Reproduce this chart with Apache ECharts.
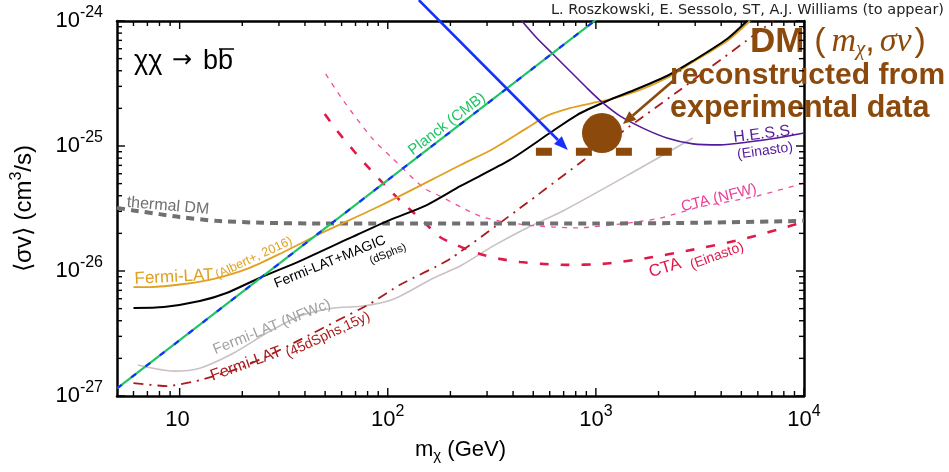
<!DOCTYPE html>
<html>
<head>
<meta charset="utf-8">
<title>bb annihilation limits</title>
<script src="https://cdn.jsdelivr.net/npm/echarts@6.0.0/dist/echarts.min.js"></script>
<style>
html, body { margin: 0; padding: 0; background: #fff; }
#chart { width: 949px; height: 472px; }
</style>
</head>
<body>
<div id="chart"></div>
<script>
// dark matter mass m (GeV) and <sigma v> (cm^3/s)
var thermalM = [5, 6, 8, 10, 15, 25, 50, 100, 300, 1000, 3000, 10000];
var thermalSv = [3.2e-26, 3.05e-26, 2.85e-26, 2.7e-26, 2.52e-26, 2.43e-26, 2.4e-26, 2.4e-26, 2.4e-26, 2.4e-26, 2.43e-26, 2.52e-26];

var planckM = [5, 1000];
var planckSv = [1.15e-27, 1.02e-24];

var albertM = [6, 7.2, 10.5, 15.1, 21.7, 31.6, 49.2, 91.5, 224, 320, 466, 581, 750, 968, 1130, 1575, 2195, 2925, 4266, 5500];
var albertSv = [7.44e-27, 7.44e-27, 7.87e-27, 8.79e-27, 1.06e-26, 1.42e-26, 2.05e-26, 3.31e-26, 7.05e-26, 9.46e-26, 1.39e-25, 1.74e-25, 2.01e-25, 2.21e-25, 2.33e-25, 2.75e-25, 3.5e-25, 4.7e-25, 6.92e-25, 1e-24];

var magicM = [6, 8.4, 12.5, 16.8, 24.2, 37.8, 65.6, 102, 154, 224, 386, 601, 811, 1130, 1575, 2195, 2925, 4266, 5321];
var magicSv = [5.06e-27, 5.15e-27, 5.75e-27, 6.67e-27, 8.79e-27, 1.2e-26, 1.83e-26, 2.55e-26, 3.37e-26, 4.79e-26, 7.73e-26, 1.27e-25, 1.77e-25, 2.29e-25, 2.86e-25, 3.63e-25, 4.79e-25, 7.18e-25, 1e-24];

var nfwcM = [6.3, 9.4, 12.5, 18.2, 26.2, 37.8, 55, 76.7, 107, 166, 224, 320, 466, 694, 1456, 2925];
var nfwcSv = [1.77e-27, 1.58e-27, 1.67e-27, 2.21e-27, 3.19e-27, 4.37e-27, 5.06e-27, 5.25e-27, 5.97e-27, 8.79e-27, 1.1e-26, 1.58e-26, 2.21e-26, 3.02e-26, 5.97e-26, 1.16e-25];

var dsph15M = [6, 8.7, 12.5, 19.4, 27.1, 37.8, 55.6, 81.9, 114, 199, 466, 1045, 2535, 7096];
var dsph15Sv = [1.27e-27, 1.2e-27, 1.34e-27, 1.67e-27, 2.13e-27, 2.81e-27, 3.91e-27, 5.45e-27, 7.73e-27, 1.25e-26, 3.5e-26, 9.64e-26, 2.81e-25, 1e-24];

var ctaEinM = [49.8, 58.7, 69.4, 81.9, 96.7, 114, 132, 151, 178, 215, 277, 345, 431, 556, 726, 1081, 1758, 2742, 5096, 8850, 10000];
var ctaEinSv = [1.8e-25, 1.25e-25, 8.95e-26, 6.55e-26, 4.88e-26, 3.7e-26, 2.96e-26, 2.42e-26, 1.87e-26, 1.61e-26, 1.37e-26, 1.25e-26, 1.18e-26, 1.14e-26, 1.12e-26, 1.14e-26, 1.27e-26, 1.45e-26, 1.8e-26, 2.33e-26, 2.51e-26];

var ctaNfwM = [50.3, 61.4, 83.8, 105, 149, 178, 224, 277, 345, 466, 621, 811, 1167, 1575, 2032, 3162, 5943, 10000];
var ctaNfwSv = [3.77e-25, 2.29e-25, 1.16e-25, 8.02e-26, 4.61e-26, 3.98e-26, 3.25e-26, 2.75e-26, 2.51e-26, 2.33e-26, 2.25e-26, 2.21e-26, 2.33e-26, 2.47e-26, 2.65e-26, 3.25e-26, 3.98e-26, 5.06e-26];

var hessM = [441, 520, 621, 750, 906, 1081, 1304, 1682, 2195, 2925, 3945, 5500, 7413, 10000];
var hessSv = [1e-24, 7.31e-25, 5.45e-25, 3.98e-25, 2.91e-25, 2.21e-25, 1.74e-25, 1.39e-25, 1.16e-25, 1.04e-25, 1.02e-25, 1.08e-25, 1.16e-25, 1.27e-25];

// reconstructed point and its band
var dotM = [1070];
var dotSv = [1.27e-25];
var bandM = [515, 2317];
var bandSv = [9.0e-26, 9.0e-26];

// annotation arrows: [start, tip] in (m, sv)
var blueArrow = [[141, 1.47e-24], [733, 9.3e-26]];
var brownArrow = [[2345, 3.31e-25], [1349, 1.5e-25]];

// decade exponents for tick labels
var xTickExp = [1, 2, 3, 4];
var yTickExp = [-27, -26, -25, -24];

var L = Math.log10;
var xMin = L(5), xMax = 4, yMin = -27, yMax = -24;
var font = 'Liberation Sans';
var brown = '#8b4a0c';

function pts(m, sv) {
	return m.map(function (v, i) { return [L(v), L(sv[i])]; });
}

function minorTicks(lo, hi) {
	var out = [];
	for (var n = Math.floor(lo); n < hi; n++) {
		for (var k = 2; k <= 9; k++) {
			var v = n + L(k);
			if (v > lo + 1e-6 && v < hi - 1e-6) out.push(v);
		}
	}
	return out;
}

// tick list: [dim (0 = x, 1 = y), value, major]
var tickData = [];
xTickExp.forEach(function (v) { tickData.push([0, v, 1]); });
minorTicks(xMin, xMax).forEach(function (v) { tickData.push([0, v, 0]); });
yTickExp.forEach(function (v) { tickData.push([1, v, 1]); });
minorTicks(yMin, yMax).forEach(function (v) { tickData.push([1, v, 0]); });

function powLabel(v) {
	var e = Math.round(v);
	return e === 1 ? '{b|10}{s| }' : '{b|10}{s|' + e + '}';
}

var labelRich = {
	b: { fontSize: 22, fontFamily: font, color: '#000' },
	s: { fontSize: 16, fontFamily: font, color: '#000', padding: [0, 0, 16, 0] }
};

function axis(pos, lo, hi, label) {
	return {
		type: 'value',
		position: pos,
		min: lo,
		max: hi,
		axisLine: { show: true, onZero: false, lineStyle: { color: '#000', width: 2.5 } },
		axisTick: { show: false },
		axisLabel: label ? { show: true, customValues: label.values, formatter: powLabel, margin: label.margin, rich: labelRich } : { show: false },
		splitLine: { show: false }
	};
}

function curve(m, sv, color, width, type, smooth) {
	return {
		type: 'line',
		data: pts(m, sv),
		symbol: 'none',
		smooth: smooth,
		silent: true,
		lineStyle: { color: color, width: width, type: type || 'solid', cap: 'butt' },
		z: 2
	};
}

var xBottom = axis('bottom', xMin, xMax, { values: xTickExp, margin: 8 });
xBottom.name = '{n|m}{u|\u03c7}{n| (GeV)}';
xBottom.nameLocation = 'middle';
xBottom.nameGap = 40;
xBottom.nameTextStyle = {
	rich: {
		n: { fontSize: 22, fontFamily: font, color: '#000' },
		u: { fontSize: 15, fontFamily: font, color: '#000', padding: [12, 0, 0, 0] }
	}
};

var yLeft = axis('left', yMin, yMax, { values: yTickExp, margin: 14 });
yLeft.name = '{n|\u27e8\u03c3v\u27e9 (cm}{s|3}{n|/s)}';
yLeft.nameLocation = 'middle';
yLeft.nameGap = 78;
yLeft.nameTextStyle = {
	rich: {
		n: { fontSize: 24, fontFamily: font, color: '#000' },
		s: { fontSize: 16, fontFamily: font, color: '#000', padding: [0, 0, 14, 0] }
	}
};

var option = {
	animation: false,
	backgroundColor: '#fff',
	grid: { left: 117, right: 145, top: 21, bottom: 76, outerBoundsMode: 'none' },
	xAxis: [xBottom, axis('top', xMin, xMax)],
	yAxis: [yLeft, axis('right', yMin, yMax)],
	series: [
		curve(nfwcM, nfwcSv, '#cbc0c4', 1.6, 'solid', 0.25),
		curve(dsph15M, dsph15Sv, '#a81c1c', 1.8, [10, 6, 2, 6], 0.2),
		curve(ctaNfwM, ctaNfwSv, '#ef4fa0', 1.3, [5, 6], 0.25),
		curve(ctaEinM, ctaEinSv, '#e0194a', 2.6, [9, 12], 0.25),
		curve(thermalM, thermalSv, '#707070', 4, [8, 6], 0.25),
		curve(albertM, albertSv, '#e0a020', 1.8, 'solid', 0.25),
		curve(magicM, magicSv, '#000000', 2, 'solid', 0.25),
		curve(hessM, hessSv, '#55199b', 1.6, 'solid', 0.25),
		curve(planckM, planckSv, '#1fc466', 2.2, 'solid', false),
		curve(planckM, planckSv, '#1530ff', 2.2, [6, 12], false),
		{
			type: 'line', data: pts(bandM, bandSv), symbol: 'none', silent: true,
			lineStyle: { color: brown, width: 8, type: [16, 24], cap: 'butt' }, z: 6
		},
		{
			type: 'scatter', data: pts(dotM, dotSv), symbol: 'circle', symbolSize: 40, silent: true,
			itemStyle: { color: brown, opacity: 1 }, z: 7
		}
	]
};

var chart = echarts.init(document.getElementById('chart'));
chart.setOption(option);

// curve labels: text, x, y, rotation (deg), size, color
var curveLabels = [
	['thermal DM', 168, 206, -5, 16, '#707070'],
	['Planck (CMB)', 447, 124, 37.5, 15, '#1fc466'],
	['Fermi-LAT', 174, 277, 3, 17, '#e0a020'],
	['(Albert+, 2016)', 254, 258, 25, 12.5, '#e0a020'],
	['Fermi-LAT+MAGIC', 330, 262, 22, 14, '#000'],
	['(dSphs)', 388, 254, 22, 11, '#000'],
	['Fermi-LAT (NFWc)', 272, 327, 22, 15, '#9ea39e'],
	['Fermi-LAT', 246, 364, 20, 16, '#a81c1c'],
	['(45dSphs,15y)', 328, 335, 25, 14, '#a81c1c'],
	['H.E.S.S.', 764, 134, 7, 16, '#55199b'],
	['(Einasto)', 765, 151, 8, 14, '#55199b'],
	['CTA (NFW)', 719, 198, 14, 15, '#ee3c96'],
	['CTA', 665, 268, 17, 17, '#e0194a'],
	['(Einasto)', 717, 256, 20, 14, '#e0194a']
];

function txt(text, x, y, size, color, extra) {
	var st = {
		text: text, fontSize: size, fontFamily: font, fill: color,
		align: 'left', verticalAlign: 'middle', textAlign: 'left', textVerticalAlign: 'middle'
	};
	for (var k in extra || {}) st[k] = extra[k];
	return { type: 'text', x: x, y: y, silent: true, z: 15, style: st };
}

function toPx(p) {
	return chart.convertToPixel({ xAxisIndex: 0, yAxisIndex: 0 }, p);
}

function arrow(a, color, width, headLen, headHalf) {
	var p0 = toPx([L(a[0][0]), L(a[0][1])]), p1 = toPx([L(a[1][0]), L(a[1][1])]);
	var dx = p1[0] - p0[0], dy = p1[1] - p0[1];
	var len = Math.sqrt(dx * dx + dy * dy), ux = dx / len, uy = dy / len;
	var bx = p1[0] - ux * headLen, by = p1[1] - uy * headLen;
	return [
		{ type: 'line', silent: true, z: 20, shape: { x1: p0[0], y1: p0[1], x2: bx, y2: by }, style: { stroke: color, lineWidth: width } },
		{ type: 'polygon', silent: true, z: 20, shape: { points: [[p1[0], p1[1]], [bx - uy * headHalf, by + ux * headHalf], [bx + uy * headHalf, by - ux * headHalf]] }, style: { fill: color } }
	];
}

// inward ticks on all four sides, positioned through the axes
function tickLine(x1, y1, x2, y2) {
	return { type: 'line', silent: true, z: 22, shape: { x1: x1, y1: y1, x2: x2, y2: y2 }, style: { stroke: '#000', lineWidth: 1.4 } };
}

var graphics = [];
tickData.forEach(function (t) {
	var len = t[2] ? 8 : 5, a, b;
	if (t[0] === 0) {
		a = toPx([t[1], yMin]);
		b = toPx([t[1], yMax]);
		graphics.push(tickLine(a[0], a[1], a[0], a[1] - len));
		graphics.push(tickLine(b[0], b[1], b[0], b[1] + len));
	} else {
		a = toPx([xMin, t[1]]);
		b = toPx([xMax, t[1]]);
		graphics.push(tickLine(a[0], a[1], a[0] + len, a[1]));
		graphics.push(tickLine(b[0], b[1], b[0] - len, b[1]));
	}
});

curveLabels.forEach(function (l) {
	var g = txt(l[0], l[1], l[2], l[4], l[5], { align: 'center', textAlign: 'center' });
	g.rotation = l[3] * Math.PI / 180;
	graphics.push(g);
});

graphics.push(txt('L. Roszkowski, E. Sessolo, ST, A.J. Williams (to appear)', 944, 10, 14.5, '#222',
	{ fontFamily: 'DejaVu Sans', align: 'right', textAlign: 'right' }));

graphics.push(txt('\u03c7\u03c7', 134, 62, 27, '#000'));
graphics.push(txt('\u2192', 172, 61, 24, '#000', { fontFamily: 'DejaVu Sans' }));
graphics.push(txt('bb', 203, 62, 27, '#000'));
graphics.push({ type: 'line', silent: true, z: 15, shape: { x1: 219, y1: 49, x2: 234, y2: 49 }, style: { stroke: '#000', lineWidth: 1.5 } });

graphics.push(txt('{b|DM} {p|(}{m|m}{u|\u03c7}{p|,}{i|\u03c3v}{p|)}', 750, 42, 35, brown, {
	rich: {
		b: { fontSize: 35, fontWeight: 'bold', fontFamily: font },
		p: { fontSize: 34, fontFamily: font },
		m: { fontSize: 34, fontStyle: 'italic', fontFamily: 'Liberation Serif', padding: [0, 0, 0, 6] },
		i: { fontSize: 34, fontStyle: 'italic', fontFamily: 'Liberation Serif', padding: [0, 3, 0, 5] },
		u: { fontSize: 21, fontStyle: 'italic', fontFamily: 'Liberation Serif', padding: [14, 0, 0, 0] }
	}
}));
graphics.push(txt('reconstructed from', 670, 75.6, 30, brown, { fontWeight: 'bold' }));
graphics.push(txt('experimental data', 670, 108.6, 30.5, brown, { fontWeight: 'bold' }));

graphics = graphics.concat(arrow(blueArrow, '#1530ff', 2.6, 14, 5.5));
graphics = graphics.concat(arrow(brownArrow, brown, 2.6, 13, 5.5));

chart.setOption({ graphic: graphics });

//大小自适应
window.onresize = function () {
	chart.resize();
};
</script>
</body>
</html>
